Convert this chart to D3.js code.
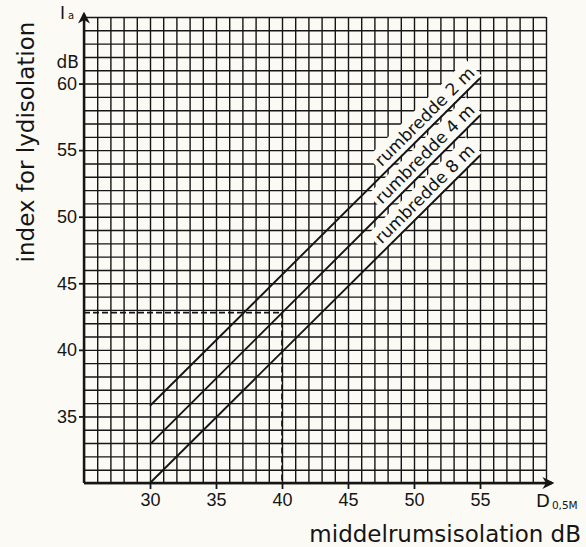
<!DOCTYPE html>
<html>
<head>
<meta charset="utf-8">
<script src="https://cdn.jsdelivr.net/npm/d3@7"></script>
<style>
  html, body { margin: 0; padding: 0; background: #fbfaf4; }
  svg { display: block; font-family: "DejaVu Sans", sans-serif; }
</style>
</head>
<body>
<svg id="chart"></svg>
<script>
// data
const xTicks = [30, 35, 40, 45, 50, 55];
const yTicks = [35, 40, 45, 50, 55, 60];
const lineNames = ["rumbredde 2 m", "rumbredde 4 m", "rumbredde 8 m"];
const lineX = [30, 55];
const line2m = [35.8, 60.4];
const line4m = [32.9, 57.6];
const line8m = [30.0, 54.6];
const markX = 40;     // dashed reading example
const markY = 42.8;

const width = 586, height = 547;
const svg = d3.select("#chart").attr("width", width).attr("height", height);

const x = d3.scaleLinear().domain([25, 60]).range([84, 546]);
const y = d3.scaleLinear().domain([30, 65]).range([483, 17]);
const ink = "#151515";
const paper = "#fbfaf4";

// millimetre grid, 1 dB each way
svg.append("g")
    .attr("transform", `translate(0,${y(30)})`)
    .call(d3.axisBottom(x).tickValues(d3.range(25, 61)).tickSize(-(y(30) - y(65))).tickFormat(""))
    .call(g => g.select(".domain").remove())
    .selectAll("line").attr("stroke", ink).attr("stroke-width", 1.4);
svg.append("g")
    .attr("transform", `translate(${x(25)},0)`)
    .call(d3.axisLeft(y).tickValues(d3.range(30, 66)).tickSize(-(x(60) - x(25))).tickFormat(""))
    .call(g => g.select(".domain").remove())
    .selectAll("line").attr("stroke", ink).attr("stroke-width", 1.4);

// labelled axes
const xAxis = svg.append("g")
    .attr("transform", `translate(0,${y(30)})`)
    .call(d3.axisBottom(x).tickValues(xTicks).tickSize(6).tickPadding(4))
    .call(g => g.select(".domain").remove());
const yAxis = svg.append("g")
    .attr("transform", `translate(${x(25)},0)`)
    .call(d3.axisLeft(y).tickValues(yTicks).tickSize(5).tickPadding(2))
    .call(g => g.select(".domain").remove());
[xAxis, yAxis].forEach(g => {
    g.selectAll("line").attr("stroke", ink).attr("stroke-width", 1.8);
    g.selectAll("text").attr("fill", ink).attr("font-size", 18);
});

// axis lines with arrows
svg.append("defs").append("marker")
    .attr("id", "arrow").attr("viewBox", "0 0 10 10")
    .attr("refX", 8).attr("refY", 5)
    .attr("markerWidth", 5).attr("markerHeight", 5)
    .attr("orient", "auto")
    .append("path").attr("d", "M0,0 L10,5 L0,10 L3,5 Z").attr("fill", ink);
svg.append("line")
    .attr("x1", x(25)).attr("x2", x(25)).attr("y1", y(30)).attr("y2", y(65) - 3)
    .attr("stroke", ink).attr("stroke-width", 2.4).attr("marker-end", "url(#arrow)");
svg.append("line")
    .attr("x1", x(25)).attr("x2", x(60) + 6).attr("y1", y(30)).attr("y2", y(30))
    .attr("stroke", ink).attr("stroke-width", 2.4).attr("marker-end", "url(#arrow)");

// dashed reading lines
svg.append("path")
    .attr("d", d3.line()([[x(25), y(markY)], [x(markX), y(markY)], [x(markX), y(30)]]))
    .attr("fill", "none").attr("stroke", ink).attr("stroke-width", 1.7)
    .attr("stroke-dasharray", "6,3");

// the three lines
const series = [line2m, line4m, line8m];
const lineGen = d3.line().x(d => x(d[0])).y(d => y(d[1]));

// labels first, on a blank patch of paper that hides the grid behind them
series.forEach((vals, i) => {
    const ang = Math.atan2(y(vals[1]) - y(vals[0]), x(lineX[1]) - x(lineX[0])) * 180 / Math.PI;
    const g = svg.append("g")
        .attr("transform", `translate(${x(lineX[1])},${y(vals[1])}) rotate(${ang})`);
    const bg = g.append("rect").attr("fill", paper);
    const t = g.append("text")
        .attr("x", 0)
        .attr("y", -6)
        .attr("text-anchor", "end")
        .attr("font-size", 17)
        .attr("fill", ink)
        .text(lineNames[i]);
    const bb = t.node().getBBox();
    bg.attr("x", bb.x - 3).attr("y", bb.y - 1)
      .attr("width", bb.width + 6).attr("height", bb.height + 2);
});

series.forEach(vals => {
    svg.append("path")
        .attr("d", lineGen(lineX.map((v, j) => [v, vals[j]])))
        .attr("fill", "none").attr("stroke", ink).attr("stroke-width", 1.9);
});

// titles
svg.append("text")
    .attr("transform", `translate(34,142) rotate(-90)`)
    .attr("text-anchor", "middle")
    .attr("font-size", 23).attr("fill", ink)
    .text("index for lydisolation");

svg.append("text")
    .attr("x", 581).attr("y", 542)
    .attr("text-anchor", "end")
    .attr("font-size", 23).attr("fill", ink)
    .text("middelrumsisolation dB");

const ia = svg.append("text").attr("x", 60).attr("y", 19).attr("font-size", 17).attr("fill", ink);
ia.append("tspan").text("I");
ia.append("tspan").attr("dx", 3).attr("font-size", 10).text("a");

svg.append("text")
    .attr("x", 79).attr("y", 68)
    .attr("text-anchor", "end")
    .attr("font-size", 17).attr("fill", ink)
    .text("dB");

const dl = svg.append("text").attr("x", 536).attr("y", 507).attr("font-size", 18).attr("fill", ink);
dl.append("tspan").text("D");
dl.append("tspan").attr("dx", 2).attr("dy", 2).attr("font-size", 10.5).text("0,5M");
</script>
</body>
</html>
